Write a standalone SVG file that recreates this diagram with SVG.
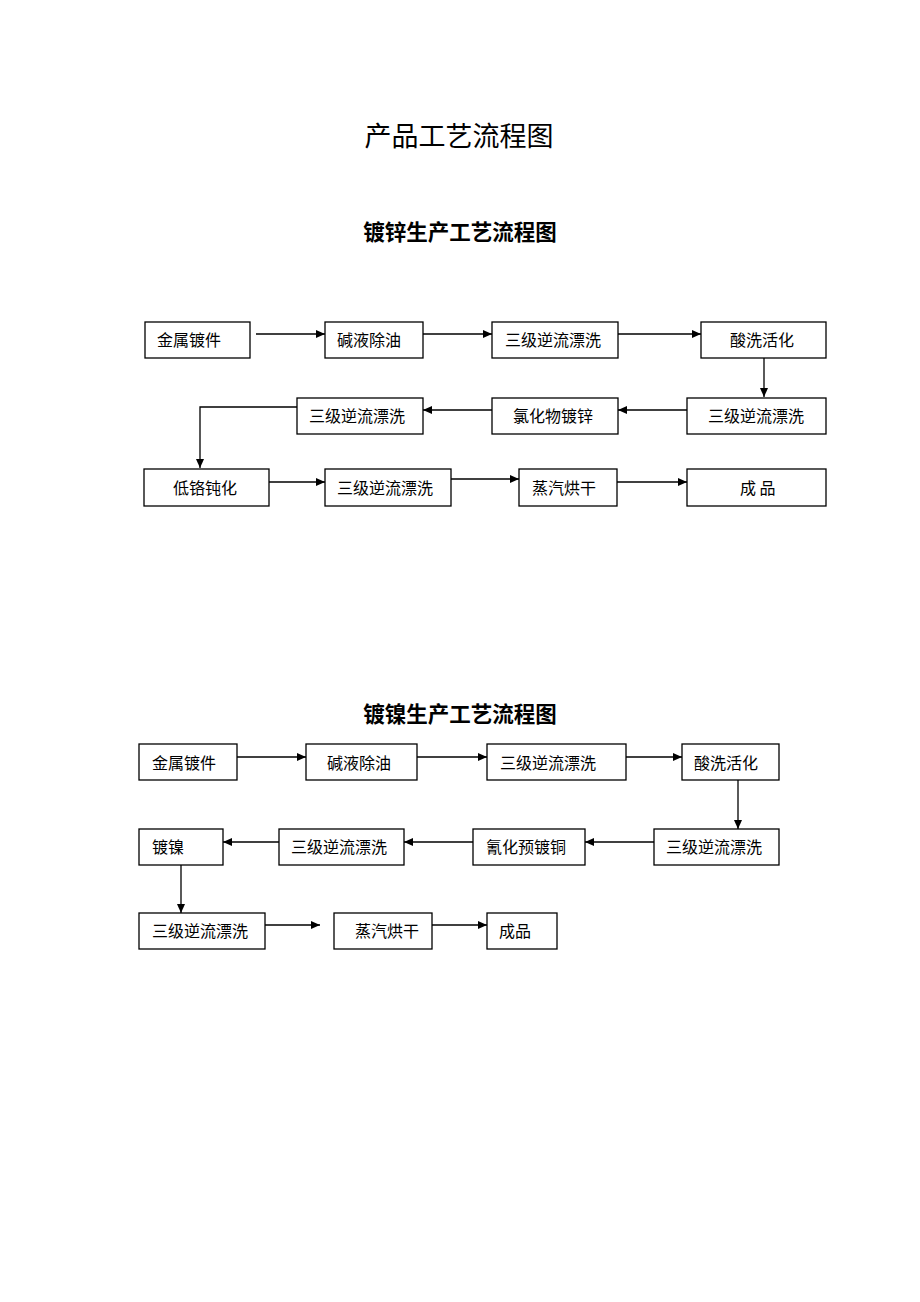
<svg xmlns="http://www.w3.org/2000/svg" width="920" height="1302" viewBox="0 0 920 1302">
<style>
.b{fill:#fff;stroke:#000;stroke-width:1.3}
.t{font-family:"Noto Sans CJK SC","Noto Sans CJK JP",sans-serif;font-size:16px;fill:#000}
.c{fill:none;stroke:#000;stroke-width:1.3}
.h1{font-family:"Noto Sans CJK SC",sans-serif;font-size:27px;fill:#000;text-anchor:middle}
.h2{font-family:"Noto Sans CJK SC",sans-serif;font-size:21.5px;font-weight:bold;fill:#000;text-anchor:middle}
</style>
<defs>
<marker id="a" markerUnits="userSpaceOnUse" markerWidth="10" markerHeight="9" refX="9" refY="4" orient="auto">
<path d="M0,0 L9,4 L0,8 z" fill="#000"/>
</marker>
</defs>
<rect width="920" height="1302" fill="#fff"/>
<text class="h1" x="459" y="146">产品工艺流程图</text>
<text class="h2" x="460" y="240">镀锌生产工艺流程图</text>
<text class="h2" x="460" y="722">镀镍生产工艺流程图</text>

<g id="connectors">
<line class="c" x1="256" y1="334" x2="325" y2="334" marker-end="url(#a)"/>
<line class="c" x1="423" y1="334" x2="492" y2="334" marker-end="url(#a)"/>
<line class="c" x1="618" y1="334" x2="701" y2="334" marker-end="url(#a)"/>
<line class="c" x1="764" y1="358" x2="764" y2="397" marker-end="url(#a)"/>
<line class="c" x1="687" y1="410" x2="618" y2="410" marker-end="url(#a)"/>
<line class="c" x1="492" y1="410" x2="423" y2="410" marker-end="url(#a)"/>
<polyline class="c" points="297,407 200,407 200,468" marker-end="url(#a)"/>
<line class="c" x1="269" y1="482" x2="325" y2="482" marker-end="url(#a)"/>
<line class="c" x1="451" y1="479" x2="519" y2="479" marker-end="url(#a)"/>
<line class="c" x1="617" y1="482" x2="687" y2="482" marker-end="url(#a)"/>

<line class="c" x1="237" y1="757" x2="306" y2="757" marker-end="url(#a)"/>
<line class="c" x1="417" y1="757" x2="487" y2="757" marker-end="url(#a)"/>
<line class="c" x1="626" y1="757" x2="682" y2="757" marker-end="url(#a)"/>
<line class="c" x1="738" y1="780" x2="738" y2="829" marker-end="url(#a)"/>
<line class="c" x1="654" y1="842" x2="585" y2="842" marker-end="url(#a)"/>
<line class="c" x1="473" y1="842" x2="404" y2="842" marker-end="url(#a)"/>
<line class="c" x1="279" y1="842" x2="223" y2="842" marker-end="url(#a)"/>
<line class="c" x1="181" y1="865" x2="181" y2="913" marker-end="url(#a)"/>
<line class="c" x1="265" y1="925" x2="320" y2="925" marker-end="url(#a)"/>
<line class="c" x1="432" y1="925" x2="487" y2="925" marker-end="url(#a)"/>
</g>

<g id="z1"><rect class="b" x="145" y="322" width="105" height="36"/><text class="t" x="157" y="346">金属镀件</text></g>
<g id="z2"><rect class="b" x="325" y="322" width="98" height="36"/><text class="t" x="337" y="346">碱液除油</text></g>
<g id="z3"><rect class="b" x="492" y="322" width="126" height="36"/><text class="t" x="505" y="346">三级逆流漂洗</text></g>
<g id="z4"><rect class="b" x="701" y="322" width="125" height="36"/><text class="t" x="730" y="346">酸洗活化</text></g>
<g id="z5"><rect class="b" x="687" y="398" width="139" height="36"/><text class="t" x="708" y="422">三级逆流漂洗</text></g>
<g id="z6"><rect class="b" x="492" y="398" width="126" height="36"/><text class="t" x="513" y="422">氯化物镀锌</text></g>
<g id="z7"><rect class="b" x="297" y="398" width="126" height="36"/><text class="t" x="309" y="422">三级逆流漂洗</text></g>
<g id="z8"><rect class="b" x="144" y="469" width="125" height="37"/><text class="t" x="173" y="494">低铬钝化</text></g>
<g id="z9"><rect class="b" x="325" y="469" width="126" height="37"/><text class="t" x="337" y="494">三级逆流漂洗</text></g>
<g id="z10"><rect class="b" x="519" y="469" width="98" height="37"/><text class="t" x="532" y="494">蒸汽烘干</text></g>
<g id="z11"><rect class="b" x="687" y="469" width="139" height="37"/><text class="t" x="740" y="494">成 品</text></g>

<g id="n1"><rect class="b" x="139" y="744" width="98" height="36"/><text class="t" x="152" y="769">金属镀件</text></g>
<g id="n2"><rect class="b" x="306" y="744" width="111" height="36"/><text class="t" x="327" y="769">碱液除油</text></g>
<g id="n3"><rect class="b" x="487" y="744" width="139" height="36"/><text class="t" x="500" y="769">三级逆流漂洗</text></g>
<g id="n4"><rect class="b" x="682" y="744" width="97" height="36"/><text class="t" x="694" y="769">酸洗活化</text></g>
<g id="n5"><rect class="b" x="654" y="829" width="125" height="36"/><text class="t" x="666" y="853">三级逆流漂洗</text></g>
<g id="n6"><rect class="b" x="473" y="829" width="112" height="36"/><text class="t" x="486" y="853">氰化预镀铜</text></g>
<g id="n7"><rect class="b" x="279" y="829" width="125" height="36"/><text class="t" x="291" y="853">三级逆流漂洗</text></g>
<g id="n8"><rect class="b" x="139" y="829" width="84" height="36"/><text class="t" x="152" y="853">镀镍</text></g>
<g id="n9"><rect class="b" x="139" y="913" width="126" height="36"/><text class="t" x="152" y="937">三级逆流漂洗</text></g>
<g id="n10"><rect class="b" x="334" y="913" width="98" height="36"/><text class="t" x="355" y="937">蒸汽烘干</text></g>
<g id="n11"><rect class="b" x="487" y="913" width="70" height="36"/><text class="t" x="499" y="937">成品</text></g>
</svg>
